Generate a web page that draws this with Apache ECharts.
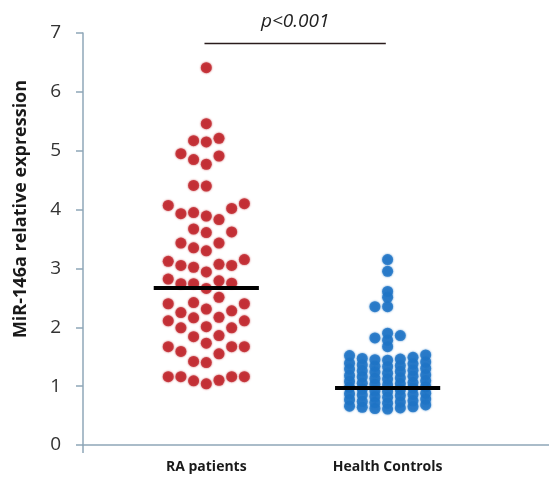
<!DOCTYPE html>
<html>
<head>
<meta charset="utf-8">
<script src="https://cdn.jsdelivr.net/npm/echarts@6/dist/echarts.min.js"></script>
<style>html,body{margin:0;padding:0;background:#fff}#c{width:549px;height:481px}</style>
</head>
<body>
<div id="c"></div>
<script>
const categories = ['RA patients', 'Health Controls'];
const raValues = [6.41,5.46,5.21,5.17,5.15,4.95,4.91,4.85,4.77,4.41,
  4.40,4.10,4.07,4.02,3.95,3.93,3.89,3.83,3.67,3.62,
  3.61,3.43,3.43,3.35,3.30,3.15,3.12,3.07,3.05,3.05,
  3.02,2.94,2.82,2.79,2.75,2.74,2.74,2.66,2.51,2.42,
  2.40,2.40,2.31,2.28,2.25,2.17,2.16,2.11,2.11,2.01,
  1.99,1.99,1.86,1.84,1.73,1.67,1.67,1.67,1.59,1.55,
  1.42,1.40,1.16,1.16,1.16,1.16,1.10,1.09,1.04];
const hcValues = [3.15,2.95,2.61,2.51,2.35,2.35,1.90,1.86,1.82,1.78,1.67,
  0.61,0.64,0.66,0.63,0.68,0.62,0.65,
  0.73,0.75,0.71,0.77,0.74,0.78,0.72,
  0.84,0.82,0.87,0.85,0.81,0.88,0.86,
  0.94,0.97,0.92,0.99,0.95,0.91,0.98,
  1.05,1.03,1.08,1.02,1.06,1.09,1.04,
  1.16,1.13,1.19,1.12,1.17,1.14,1.18,
  1.27,1.24,1.29,1.22,1.26,1.30,1.25,
  1.36,1.33,1.39,1.35,1.38,1.41,1.34,
  1.47,1.44,1.52,1.46,1.49,1.53,1.45];
const medians = [2.68, 0.97];
const pText = 'p<0.001';
const pLevel = 6.83;
const yTickLabels = ['0','1','2','3','4','5','6','7'];

const STEP = 0.07, HALF = 0.29;
const gaps = [0.28, 0.1];
function swarm(values, center, gap) {
  const sorted = values.slice().sort((a, b) => a - b);
  const slots = [0, -1, 1, -2, 2, -3, 3];
  const cols = {};
  slots.forEach(s => cols[s] = []);
  return sorted.map(v => {
    let best = null, bestD = -1;
    for (const s of slots) {
      const d = cols[s].reduce((m, u) => Math.min(m, Math.abs(u - v)), Infinity);
      if (d >= gap - 1e-9) { best = s; break; }
      if (d > bestD + 1e-9) { bestD = d; best = s; }
    }
    cols[best].push(v);
    return [center + best * STEP, v];
  });
}

const axisColor = '#8fa7b8';
const font = '"Open Sans", sans-serif';
const colors = ['#c1272d', '#1f74c6'];
const groups = [raValues, hcValues];

const series = groups.map((vals, i) => {
  const c = i + 1;
  return {
    type: 'scatter',
    data: swarm(vals, c, gaps[i]),
    symbol: 'circle',
    symbolSize: 11,
    itemStyle: { color: colors[i], shadowBlur: 2, shadowColor: colors[i] },
    markLine: {
      silent: true,
      symbol: 'none',
      animation: false,
      lineStyle: { color: '#000', width: 4, type: 'solid' },
      label: { show: false },
      data: [[{ coord: [c - HALF, medians[i]] }, { coord: [c + HALF, medians[i]] }]]
    }
  };
});

series.push({
  type: 'line',
  data: [],
  markLine: {
    silent: true,
    symbol: 'none',
    animation: false,
    lineStyle: { color: '#2a1c1c', width: 1.3, type: 'solid' },
    label: {
      show: true, position: 'middle', formatter: pText,
      fontStyle: 'italic', fontSize: 19, color: '#222', fontFamily: font, distance: 12
    },
    data: [[{ coord: [0.99, pLevel] }, { coord: [1.99, pLevel] }]]
  }
});

const chart = echarts.init(document.getElementById('c'));
chart.setOption({
  animation: false,
  grid: { left: 83, right: 0, top: 33, bottom: 36 },
  xAxis: {
    type: 'value', min: 0.32, max: 2.89,
    splitLine: { show: false },
    axisLine: { show: true, lineStyle: { color: axisColor, width: 1.5 } },
    axisTick: { show: true, customValues: [0.32], length: 8, lineStyle: { color: axisColor, width: 1.5 } },
    axisLabel: {
      customValues: [1, 2],
      formatter: v => categories[Math.round(v) - 1] || '',
      fontSize: 14, fontWeight: 'bold', color: '#1a1a1a', fontFamily: font, margin: 15
    }
  },
  yAxis: {
    type: 'value', min: 0, max: 7, interval: 1,
    splitLine: { show: false },
    axisLine: { show: true, lineStyle: { color: axisColor, width: 1.5 } },
    axisTick: { show: true, length: 7, lineStyle: { color: axisColor, width: 1.5 } },
    axisLabel: {
      formatter: v => yTickLabels[v],
      fontSize: 19, color: '#333', fontFamily: font, margin: 22
    }
  },
  graphic: [{
    type: 'text',
    x: 21, y: 209,
    rotation: Math.PI / 2,
    style: {
      text: 'MiR-146a relative expression',
      font: 'bold 18px ' + font,
      fill: '#1a1a1a',
      textAlign: 'center',
      textVerticalAlign: 'middle'
    }
  }],
  series: series
});
</script>
</body>
</html>
